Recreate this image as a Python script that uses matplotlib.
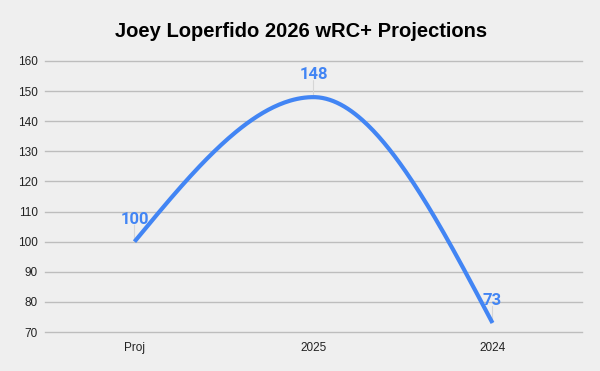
import numpy as np
import matplotlib
matplotlib.use("Agg")
import matplotlib.pyplot as plt

categories = ["Proj", "2025", "2024"]
values = [100, 148, 73]
yticks = [70, 80, 90, 100, 110, 120, 130, 140, 150, 160]
title = "Joey Loperfido 2026 wRC+ Projections"

BG = "#efefef"
BLUE = "#4285f4"

fig = plt.figure(figsize=(6, 3.71), dpi=100, facecolor=BG)
ax = fig.add_axes([0.075, 0.1051, 0.895, 0.7305], facecolor=BG)

x = np.arange(len(values), dtype=float)
y = np.array(values, dtype=float)
n = len(y)

# tangents for smooth curve (Hermite)
m = np.zeros(n)
for i in range(1, n - 1):
    d0 = y[i] - y[i - 1]
    d1 = y[i + 1] - y[i]
    if d0 * d1 <= 0:
        m[i] = 0.0
    else:
        m[i] = (y[i + 1] - y[i - 1]) / 2
m[0] = 1.5 * (y[1] - y[0]) - 0.5 * m[1]
m[-1] = 1.5 * (y[-1] - y[-2]) - 0.5 * m[-2]

xs, ys = [], []
for i in range(n - 1):
    t = np.linspace(0, 1, 100)
    h00 = 2 * t**3 - 3 * t**2 + 1
    h10 = t**3 - 2 * t**2 + t
    h01 = -2 * t**3 + 3 * t**2
    h11 = t**3 - t**2
    xs.append(x[i] + t)
    ys.append(h00 * y[i] + h10 * m[i] + h01 * y[i + 1] + h11 * m[i + 1])
xs = np.concatenate(xs)
ys = np.concatenate(ys)

ax.plot(xs, ys, color=BLUE, lw=3.0, solid_capstyle="butt", zorder=3)

for xi, yi in zip(x, y):
    ax.annotate("", xy=(xi, yi), xytext=(xi, yi + 5.5),
                arrowprops=dict(arrowstyle="-", color="#d6d6d6", lw=0.8,
                                shrinkA=0, shrinkB=0), zorder=2)
    ax.annotate(f"{int(yi)}", xy=(xi, yi), xytext=(0, 16),
                textcoords="offset points", ha="center", va="center",
                color=BLUE, fontsize=12, fontweight="bold",
                family="Roboto", zorder=4)

ax.set_xlim(-0.5, n - 0.5)
ax.set_ylim(70, 160)
ax.set_yticks(yticks)
ax.set_xticks(x)
ax.set_xticklabels(categories)
ax.grid(axis="y", color="#bdbdbd", lw=1.0)
for gl in ax.get_ygridlines():
    gl.set_clip_on(False)
ax.set_axisbelow(True)
for s in ax.spines.values():
    s.set_visible(False)
ax.tick_params(axis="both", length=0, labelsize=8.5, labelcolor="#222222")
ax.tick_params(axis="y", pad=5)
ax.tick_params(axis="x", pad=7)
for lab in ax.get_xticklabels() + ax.get_yticklabels():
    lab.set_family("Liberation Sans")

fig.text(0.502, 0.916, title, ha="center", va="center", fontsize=14.5,
         fontweight="bold", family="Liberation Sans", color="#000000")

fig.savefig("out.png", dpi=100, facecolor=BG)
